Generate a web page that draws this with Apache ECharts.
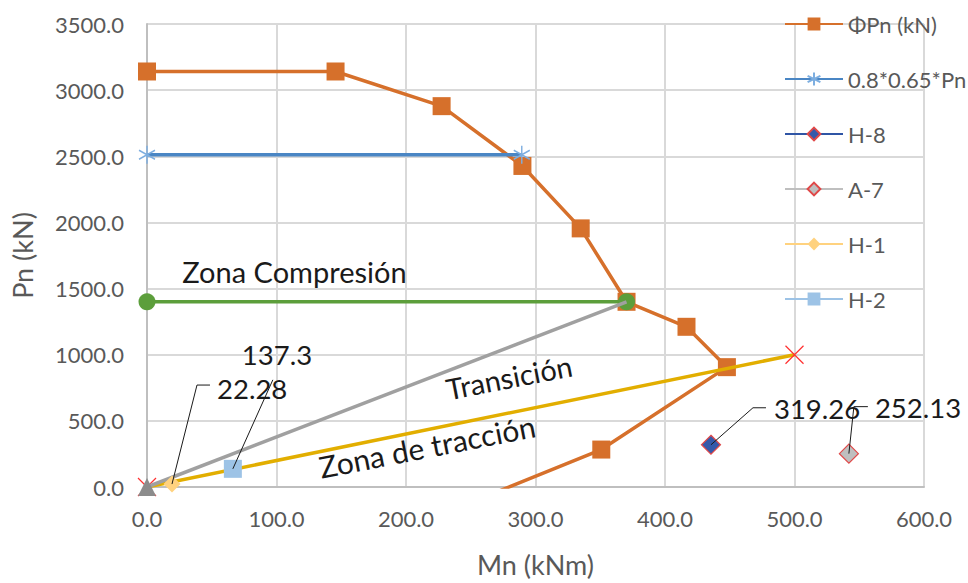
<!DOCTYPE html>
<html><head><meta charset="utf-8">
<script src="https://cdn.jsdelivr.net/npm/echarts@6/dist/echarts.min.js"></script>
<style>html,body{margin:0;padding:0;background:#fff}#c{width:968px;height:583px}</style>
</head><body><div id="c"></div>
<script>
// ---- data ----
const xTicks = [0, 100, 200, 300, 400, 500, 600];
const yTicks = [0, 500, 1000, 1500, 2000, 2500, 3000, 3500];
const phiMn = [0, 145.6, 227.5, 289.9, 334.9, 370.3, 416.6, 447.8, 350.8, 0];
const phiPn = [3141, 3141, 2879, 2427, 1955, 1400, 1211, 906, 283, -1110];
const redMn = [0, 289.4];
const redPn = [2512, 2512];
const balMn = [0, 370.3];
const balPn = [1400, 1400];
const transMn = [0, 370.3];
const transPn = [0, 1400];
const tensMn = [0, 500];
const tensPn = [0, 1000];
const h8Mn = [435.5], h8Pn = [319.26];
const a7Mn = [542.0], a7Pn = [252.13];
const h1Mn = [19.3], h1Pn = [22.28];
const h2Mn = [66.3], h2Pn = [137.3];
const legendNames = ['ΦPn (kN)', '0.8*0.65*Pn', 'H-8', 'A-7', 'H-1', 'H-2'];
const zoneTexts = ['Zona Compresión', 'Transición', 'Zona de tracción'];

// ---- chart ----
const FONT = 'Lato, "Open Sans", sans-serif';
const pairs = (xs, ys) => xs.map((x, i) => [x, ys[i]]);
const chart = echarts.init(document.getElementById('c'), null, {renderer: 'svg'});

const star = 'path://M7 0L7 16M0 4L14 12M0 12L14 4';
const cross = 'path://M0 0L16 16M0 16L16 0';

const phiData = pairs(phiMn, phiPn).map((p, i) => i === phiMn.length - 1 ? {value: p, symbol: 'none'} : p);
const transData = pairs(transMn, transPn).map((p, i) => i === 0 ? p : {value: p, symbol: 'none'});

const option = {
  animation: false,
  backgroundColor: '#fff',
  grid: {left: 147, right: 44, top: 24, bottom: 91},
  xAxis: {
    type: 'value', min: xTicks[0], max: xTicks[xTicks.length - 1], interval: xTicks[1] - xTicks[0],
    name: 'Mn (kNm)', nameLocation: 'middle', nameGap: 64,
    nameTextStyle: {fontFamily: FONT, fontSize: 27, color: '#595959'},
    axisLine: {show: true, lineStyle: {color: '#BFBFBF', width: 2}},
    axisTick: {show: false},
    axisLabel: {fontFamily: FONT, fontSize: 22, color: '#595959', margin: 20, formatter: v => v.toFixed(1)},
    splitLine: {show: true, lineStyle: {color: '#D9D9D9', width: 2}}
  },
  yAxis: {
    type: 'value', min: yTicks[0], max: yTicks[yTicks.length - 1], interval: yTicks[1] - yTicks[0],
    name: 'Pn (kN)', nameLocation: 'middle', nameGap: 111, nameRotate: 90,
    nameTextStyle: {fontFamily: FONT, fontSize: 27, color: '#595959'},
    axisLine: {show: true, lineStyle: {color: '#BFBFBF', width: 2}},
    axisTick: {show: false},
    axisLabel: {fontFamily: FONT, fontSize: 22, color: '#595959', margin: 23, formatter: v => v.toFixed(1)},
    splitLine: {show: true, lineStyle: {color: '#D9D9D9', width: 2}}
  },
  legend: {
    orient: 'vertical', left: 784, top: 13, itemWidth: 58, itemHeight: 16, itemGap: 33, padding: 0,
    textStyle: {fontFamily: FONT, fontSize: 22, color: '#595959', lineHeight: 22},
    data: legendNames
  },
  series: [
    {name: legendNames[0], type: 'line', data: phiData, symbol: 'rect', symbolSize: 18,
      itemStyle: {color: '#D6702B'}, lineStyle: {color: '#D6702B', width: 3.5}, z: 2},
    {name: legendNames[1], type: 'line', data: pairs(redMn, redPn), symbol: star, symbolSize: [16, 18],
      itemStyle: {color: 'rgba(0,0,0,0)', borderColor: '#7DAEE0', borderWidth: 1.5},
      lineStyle: {color: '#4A86C4', width: 3.5}, z: 3},
    {name: 'balance', type: 'line', data: pairs(balMn, balPn), symbol: 'circle', symbolSize: 17,
      itemStyle: {color: '#5C9E3B'}, lineStyle: {color: '#5C9E3B', width: 3.5}, z: 4},
    {name: 'tension', type: 'line', data: pairs(tensMn, tensPn), symbol: cross, symbolSize: 18,
      itemStyle: {color: 'rgba(0,0,0,0)', borderColor: '#FF3030', borderWidth: 1.2},
      lineStyle: {color: '#E2AE00', width: 3.5}, z: 5},
    {name: 'transition', type: 'line', data: transData, symbol: 'triangle', symbolSize: 18,
      itemStyle: {color: '#8C8C8C'}, lineStyle: {color: '#A0A0A0', width: 3.5}, z: 6},
    {name: legendNames[2], type: 'line', data: pairs(h8Mn, h8Pn), symbol: 'diamond', symbolSize: 19,
      itemStyle: {color: '#3559AA', borderColor: '#E04848', borderWidth: 1.2},
      lineStyle: {color: '#2F55A5', width: 3.5}, z: 7},
    {name: legendNames[3], type: 'line', data: pairs(a7Mn, a7Pn), symbol: 'diamond', symbolSize: 19,
      itemStyle: {color: '#BFBFBF', borderColor: '#E04848', borderWidth: 1.2},
      lineStyle: {color: '#BFBFBF', width: 3.5}, z: 7},
    {name: legendNames[4], type: 'line', data: pairs(h1Mn, h1Pn), symbol: 'diamond', symbolSize: 17,
      itemStyle: {color: '#FFD27F'}, lineStyle: {color: '#FFD27F', width: 3.5}, z: 7},
    {name: legendNames[5], type: 'line', data: pairs(h2Mn, h2Pn), symbol: 'rect', symbolSize: 18,
      itemStyle: {color: '#9DC3E6'}, lineStyle: {color: '#9DC3E6', width: 3.5}, z: 7}
  ]
};
chart.setOption(option);

// ---- annotations: leader lines and value labels ----
const toPx = (x, y) => chart.convertToPixel({gridIndex: 0}, [x, y]);
const gfx = [];
const txt = (x, y, text) => gfx.push({
  type: 'text', x: x, y: y, z: 100,
  style: {text: text, fontFamily: FONT, fontSize: 27.5, fill: '#1a1a1a', align: 'left', verticalAlign: 'middle'}
});
const poly = (pts) => gfx.push({type: 'polyline', z: 99, shape: {points: pts},
  style: {stroke: '#1a1a1a', lineWidth: 1, fill: null}});

// [series x, series y, leader bend dx, dy, leader end dx, text dx, text dy]
const callouts = [
  [h1Mn[0], h1Pn[0], 25, -99, 38, 45, -96],
  [h2Mn[0], h2Pn[0], 40, -89, 40, 9, -114],
  [h8Mn[0], h8Pn[0], 42, -37, 55, 63, -36],
  [a7Mn[0], a7Pn[0], 5, -47, 19, 26, -46]
];
callouts.forEach(c => {
  const p = toPx(c[0], c[1]);
  const b = [p[0] + c[2], p[1] + c[3]];
  const e = [p[0] + c[4], p[1] + c[3]];
  poly([p, b, e]);
  txt(p[0] + c[5], p[1] + c[6], String(c[1]));
});

// zone titles
const zoneStyle = (t, s) => ({text: t, fontFamily: FONT, fontSize: s, fill: '#1a1a1a', align: 'center', verticalAlign: 'middle'});
gfx.push({type: 'text', x: 294.5, y: 271, z: 100, style: zoneStyle(zoneTexts[0], 29)});
gfx.push({type: 'text', x: 509, y: 377, z: 100, rotation: 11 * Math.PI / 180, style: zoneStyle(zoneTexts[1], 29)});
gfx.push({type: 'text', x: 427, y: 446, z: 100, rotation: 11 * Math.PI / 180, style: zoneStyle(zoneTexts[2], 30)});

chart.setOption({graphic: gfx});
</script>
</body></html>
